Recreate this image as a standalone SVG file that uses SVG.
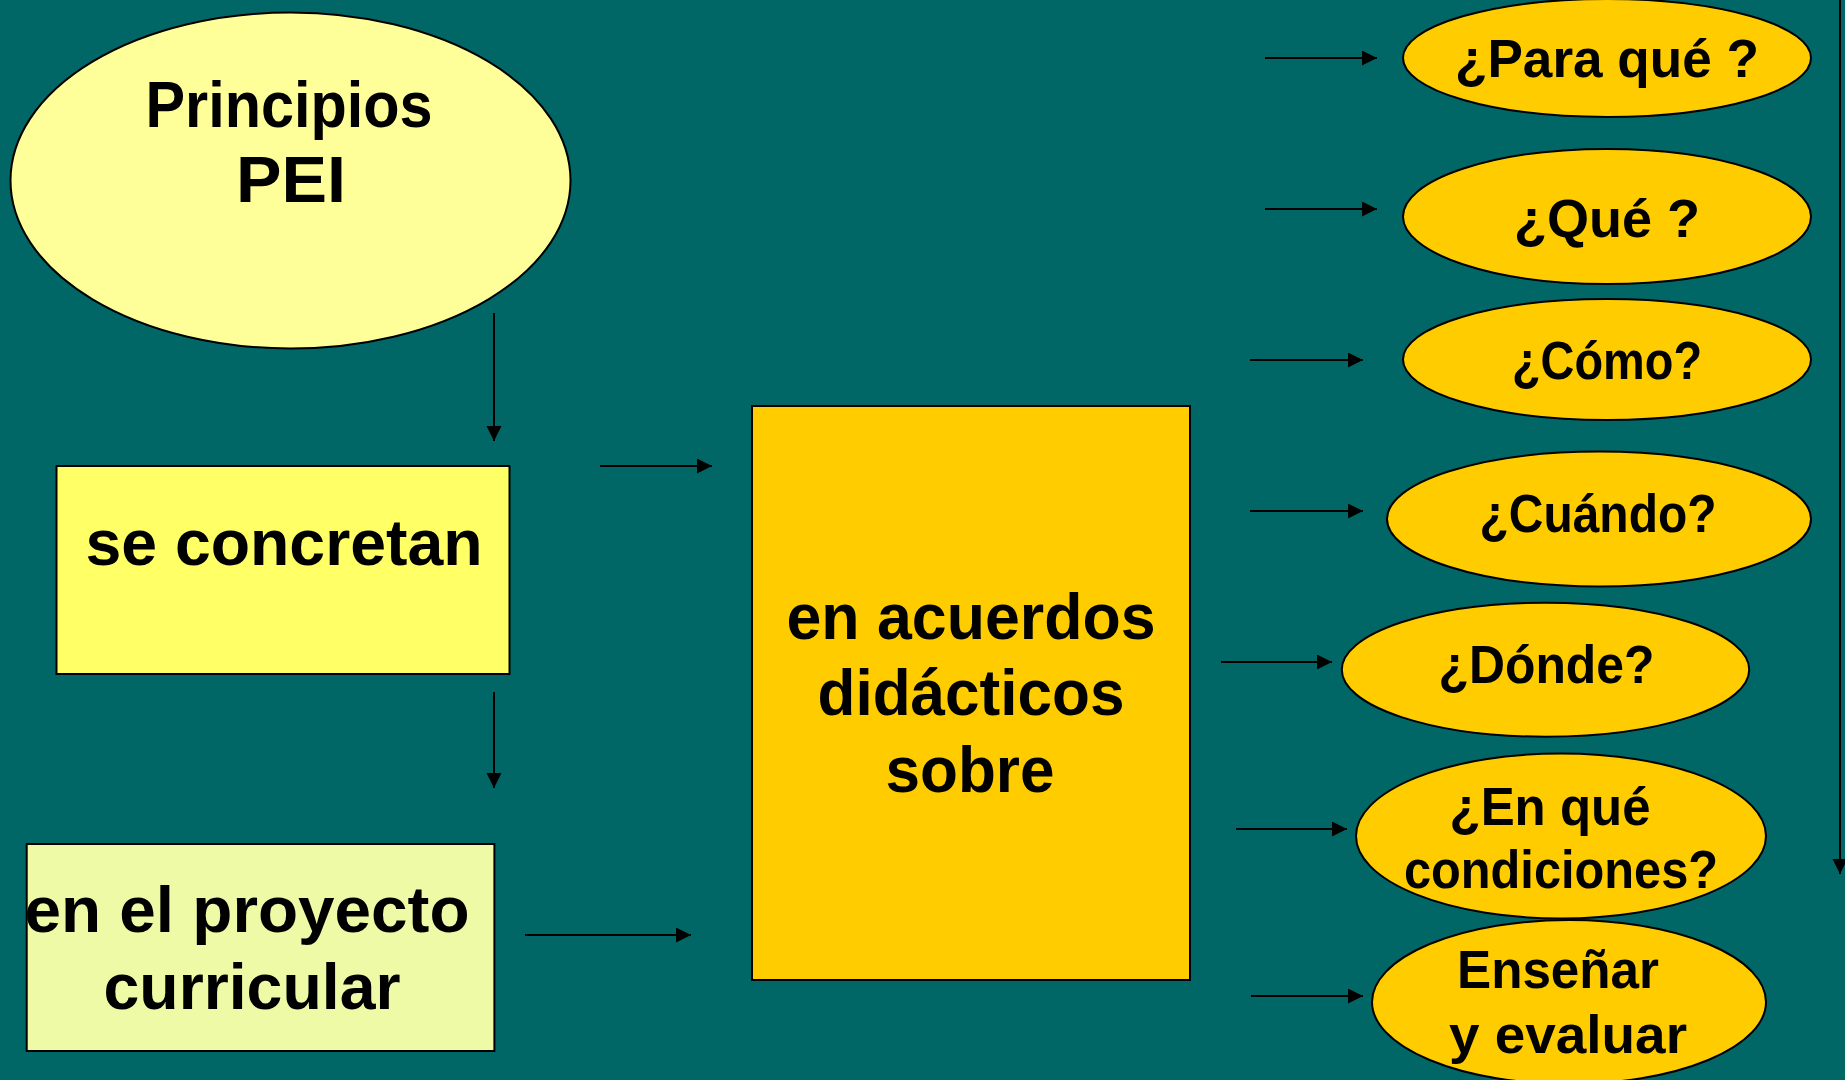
<svg xmlns="http://www.w3.org/2000/svg" width="1845" height="1080" viewBox="0 0 1845 1080">
<defs>
<marker id="ah" markerUnits="userSpaceOnUse" markerWidth="16" markerHeight="16" refX="15" refY="7.5" orient="auto">
<path d="M0,0 L15,7.5 L0,15 z" fill="#000"/>
</marker>
<style>
.bg{fill:#006666}
.n{stroke:#000;stroke-width:2}
.y1{fill:#FFFF99}
.y2{fill:#FFFF66}
.y3{fill:#EEFAA6}
.o{fill:#FFCC00}
.t{font-family:"Liberation Sans",Arial,sans-serif;font-weight:bold;fill:#000;text-anchor:middle}
.big{font-size:64px}
.mid{font-size:54px}
.c line{stroke:#000;stroke-width:2;marker-end:url(#ah)}
</style>
</defs>
<rect class="bg" x="0" y="0" width="1845" height="1080"/>

<g id="principios">
<ellipse class="n y1" cx="290.5" cy="180.5" rx="280" ry="168"/>
<text class="t big" x="289" y="127" textLength="287" lengthAdjust="spacingAndGlyphs">Principios</text>
<text class="t big" x="291" y="202" textLength="110" lengthAdjust="spacingAndGlyphs">PEI</text>
</g>

<g id="se-concretan">
<rect class="n y2" x="56.5" y="466" width="453" height="208"/>
<text class="t big" x="284" y="565" textLength="397" lengthAdjust="spacingAndGlyphs">se concretan</text>
</g>

<g id="proyecto">
<rect class="n y3" x="26.7" y="844" width="467.7" height="207"/>
<text class="t big" x="247" y="932" textLength="445" lengthAdjust="spacingAndGlyphs">en el proyecto</text>
<text class="t big" x="252" y="1009" textLength="297" lengthAdjust="spacingAndGlyphs">curricular</text>
</g>

<g id="acuerdos">
<rect class="n o" x="752" y="406" width="438" height="574"/>
<text class="t big" x="971" y="639" textLength="369" lengthAdjust="spacingAndGlyphs">en acuerdos</text>
<text class="t big" x="971" y="715" textLength="307" lengthAdjust="spacingAndGlyphs">didácticos</text>
<text class="t big" x="970" y="792" textLength="169" lengthAdjust="spacingAndGlyphs">sobre</text>
</g>

<g id="para-que">
<ellipse class="n o" cx="1607" cy="58" rx="204" ry="59"/>
<text class="t mid" x="1607" y="77" textLength="304" lengthAdjust="spacingAndGlyphs">¿Para qué ?</text>
</g>

<g id="que">
<ellipse class="n o" cx="1607" cy="216.5" rx="204" ry="67.5"/>
<text class="t mid" x="1607" y="237" textLength="186" lengthAdjust="spacingAndGlyphs">¿Qué ?</text>
</g>

<g id="como">
<ellipse class="n o" cx="1607" cy="359.5" rx="204" ry="60.5"/>
<text class="t mid" x="1607" y="379" textLength="190" lengthAdjust="spacingAndGlyphs">¿Cómo?</text>
</g>

<g id="cuando">
<ellipse class="n o" cx="1599" cy="519" rx="212" ry="67.5"/>
<text class="t mid" x="1598" y="532" textLength="237" lengthAdjust="spacingAndGlyphs">¿Cuándo?</text>
</g>

<g id="donde">
<ellipse class="n o" cx="1545.5" cy="669.7" rx="203.7" ry="67"/>
<text class="t mid" x="1546.5" y="683" textLength="216" lengthAdjust="spacingAndGlyphs">¿Dónde?</text>
</g>

<g id="condiciones">
<ellipse class="n o" cx="1561" cy="836" rx="205" ry="82.5"/>
<text class="t mid" x="1550" y="825" textLength="201" lengthAdjust="spacingAndGlyphs">¿En qué</text>
<text class="t mid" x="1561" y="888" textLength="314" lengthAdjust="spacingAndGlyphs">condiciones?</text>
</g>

<g id="ensenar">
<ellipse class="n o" cx="1569" cy="1002" rx="197" ry="82"/>
<text class="t mid" x="1558" y="988" textLength="202" lengthAdjust="spacingAndGlyphs">Enseñar</text>
<text class="t mid" x="1568" y="1053" textLength="238" lengthAdjust="spacingAndGlyphs">y evaluar</text>
</g>

<g id="connectors" class="c">
<line x1="494" y1="313" x2="494" y2="441"/>
<line x1="494" y1="692" x2="494" y2="788"/>
<line x1="600" y1="466" x2="712" y2="466"/>
<line x1="525" y1="935" x2="691" y2="935"/>
<line x1="1265" y1="58" x2="1377" y2="58"/>
<line x1="1265" y1="209" x2="1377" y2="209"/>
<line x1="1250" y1="360" x2="1363" y2="360"/>
<line x1="1250" y1="511" x2="1363" y2="511"/>
<line x1="1221" y1="662" x2="1332" y2="662"/>
<line x1="1236" y1="829" x2="1347" y2="829"/>
<line x1="1251" y1="996" x2="1363" y2="996"/>
<line x1="1840" y1="0" x2="1840" y2="874"/>
</g>
</svg>
